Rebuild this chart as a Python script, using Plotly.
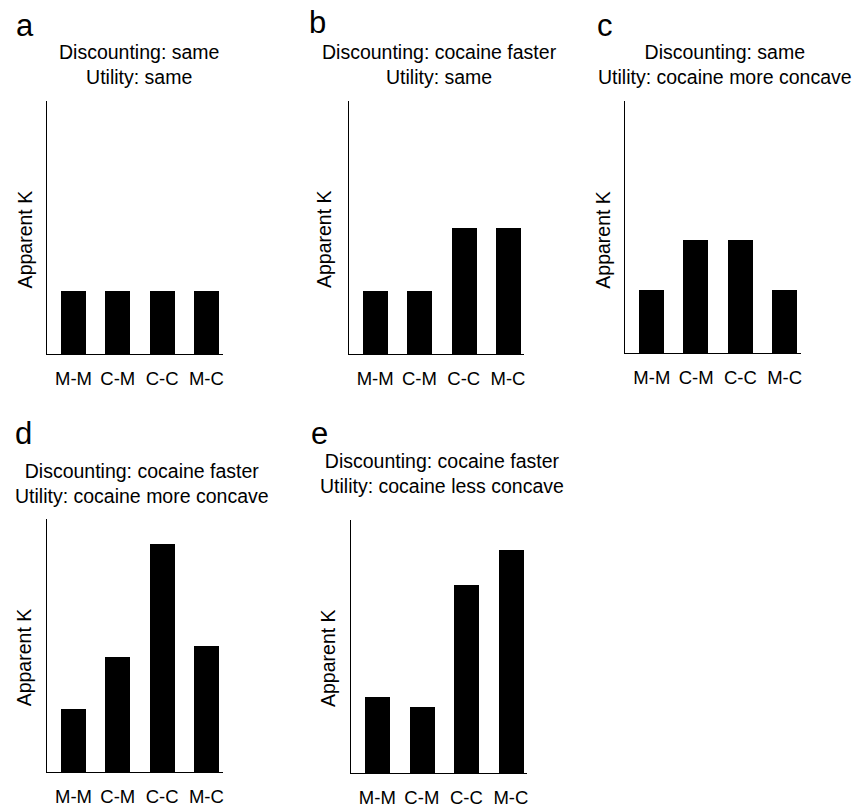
import plotly.graph_objects as go

W, H = 852, 808

categories = ["M-M", "C-M", "C-C", "M-C"]
panel_letters = ["a", "b", "c", "d", "e"]
discounting = ["same", "cocaine faster", "same", "cocaine faster", "cocaine faster"]
utility = ["same", "same", "cocaine more concave", "cocaine more concave", "cocaine less concave"]
values_a = [1.0, 1.0, 1.0, 1.0]
values_b = [1.0, 1.0, 2.0, 2.0]
values_c = [1.0, 1.8, 1.8, 1.0]
values_d = [1.0, 1.82, 3.6, 2.0]
values_e = [1.2, 1.04, 2.98, 3.53]
all_values = [values_a, values_b, values_c, values_d, values_e]

# layout in pixels: (x0, x1, ytop, ybottom)
boxes = [(47, 223, 101, 355), (349, 525, 101, 355), (626, 802, 101, 354),
         (47, 223, 520, 774), (351, 528, 521, 775)]
title_cx = [139, 440, 726, 142, 443]
title_cy = [64.5, 64.5, 64.5, 484.5, 474.5]
letter_pos = [(25, 26), (318, 23), (606, 26), (24, 435), (320, 435)]
ylab_pos = [(25, 240), (325, 240), (604, 240), (24, 659), (329, 660)]

FONT = "Liberation Sans, Arial, sans-serif"

fig = go.Figure()
annotations = []
for i, vals in enumerate(all_values):
    n = i + 1
    xa = "x" if n == 1 else f"x{n}"
    ya = "y" if n == 1 else f"y{n}"
    fig.add_trace(go.Bar(x=list(range(len(categories))), y=vals, xaxis=xa, yaxis=ya,
                         width=0.57, marker=dict(color="black", line=dict(width=0)),
                         showlegend=False, hoverinfo="skip"))
    x0, x1, yt, yb = boxes[i]
    key = "" if n == 1 else str(n)
    fig.layout["xaxis" + key] = dict(
        domain=[x0 / W, x1 / W], anchor=ya, range=[-0.6, 3.37],
        tickmode="array", tickvals=list(range(len(categories))), ticktext=categories,
        showline=True, linecolor="black", linewidth=1.3, ticks="", showgrid=False,
        zeroline=False, fixedrange=True, ticklabelstandoff=8,
        tickfont=dict(family=FONT, size=18.5, color="black"))
    fig.layout["yaxis" + key] = dict(
        domain=[1 - yb / H, 1 - yt / H], anchor=xa, range=[0, 4],
        showline=True, linecolor="black", linewidth=1.3, showticklabels=False,
        ticks="", showgrid=False, zeroline=False, fixedrange=True)
    annotations.append(dict(
        text=f"Discounting: {discounting[i]}<br>Utility: {utility[i]}",
        x=title_cx[i] / W, y=1 - title_cy[i] / H, xref="paper", yref="paper",
        xanchor="center", yanchor="middle", showarrow=False, align="center",
        font=dict(family=FONT, size=19.5, color="black")))
    lx, ly = letter_pos[i]
    annotations.append(dict(
        text=panel_letters[i], x=lx / W, y=1 - ly / H, xref="paper", yref="paper",
        xanchor="center", yanchor="middle", showarrow=False,
        font=dict(family=FONT, size=31, color="black")))
    px, py = ylab_pos[i]
    annotations.append(dict(
        text="Apparent K", x=px / W, y=1 - py / H, xref="paper", yref="paper",
        xanchor="center", yanchor="middle", showarrow=False, textangle=-90,
        font=dict(family=FONT, size=19.5, color="black")))

fig.update_layout(width=W, height=H, margin=dict(l=0, r=0, t=0, b=0),
                  paper_bgcolor="white", plot_bgcolor="white",
                  annotations=annotations, bargap=0)
fig.write_html("out.html")
